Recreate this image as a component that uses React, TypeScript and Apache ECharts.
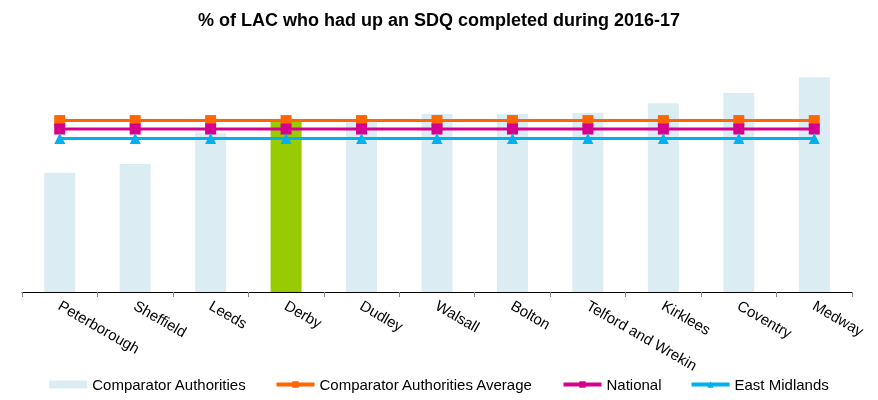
import React, { useEffect, useRef } from "react";
import * as echarts from "echarts";

const categories = [
  "Peterborough",
  "Sheffield",
  "Leeds",
  "Derby",
  "Dudley",
  "Walsall",
  "Bolton",
  "Telford and Wrekin",
  "Kirklees",
  "Coventry",
  "Medway",
];
const comparatorValues = [55, 59, 73.3, 78.8, 78.3, 82, 82, 82.5, 87, 91.7, 99];
const comparatorAverage = [79, 79, 79, 79, 79, 79, 79, 79, 79, 79, 79];
const nationalValues = [75.1, 75.1, 75.1, 75.1, 75.1, 75.1, 75.1, 75.1, 75.1, 75.1, 75.1];
const eastMidlandsValues = [70.7, 70.7, 70.7, 70.7, 70.7, 70.7, 70.7, 70.7, 70.7, 70.7, 70.7];
const highlight = "Derby";

const FONT = "Liberation Sans, Arial, sans-serif";

export default function App() {
  const ref = useRef<HTMLDivElement>(null);
  useEffect(() => {
    if (!ref.current) return;
    const chart = echarts.init(ref.current, undefined, { renderer: "svg" });
    chart.setOption({
      animation: false,
      title: {
        text: "% of LAC who had up an SDQ completed during 2016-17",
        left: "center",
        top: 6,
        textStyle: { fontFamily: FONT, fontSize: 18, fontWeight: "bold", color: "#000" },
      },
      grid: { left: 22, right: 26, top: 75, bottom: 108, containLabel: false },
      legend: {
        top: 377,
        left: "center",
        padding: 0,
        itemGap: 28,
        itemWidth: 38,
        itemHeight: 8,
        lineStyle: { width: 4 },
        textStyle: { fontFamily: FONT, fontSize: 15, color: "#000" },
        data: [
          { name: "Comparator Authorities", icon: "rect" },
          "Comparator Authorities Average",
          "National",
          "East Midlands",
        ],
      },
      xAxis: {
        type: "category",
        data: categories,
        boundaryGap: true,
        axisLine: { lineStyle: { color: "#000", width: 1 } },
        axisTick: { show: true, length: 5, lineStyle: { color: "#888" } },
        axisLabel: {
          rotate: -30,
          interval: 0,
          margin: 12,
          fontFamily: FONT,
          fontSize: 15,
          color: "#000",
        },
      },
      yAxis: {
        type: "value",
        min: 0,
        max: 100,
        show: false,
        splitLine: { show: false },
      },
      series: [
        {
          name: "Comparator Authorities",
          type: "bar",
          barWidth: 31,
          itemStyle: { color: "#DBEDF3" },
          data: comparatorValues.map((v, i) =>
            categories[i] === highlight
              ? { value: v, itemStyle: { color: "#99CC00" } }
              : v
          ),
        },
        {
          name: "Comparator Authorities Average",
          type: "line",
          data: comparatorAverage,
          symbol: "rect",
          symbolSize: 11,
          color: "#FF6600",
          lineStyle: { width: 3, color: "#FF6600" },
          itemStyle: { color: "#FF6600" },
        },
        {
          name: "National",
          type: "line",
          data: nationalValues,
          symbol: "rect",
          symbolSize: 11,
          color: "#D6008F",
          lineStyle: { width: 3, color: "#D6008F" },
          itemStyle: { color: "#D6008F" },
        },
        {
          name: "East Midlands",
          type: "line",
          data: eastMidlandsValues,
          symbol: "triangle",
          symbolSize: 11,
          color: "#00B0F0",
          lineStyle: { width: 3, color: "#00B0F0" },
          itemStyle: { color: "#00B0F0" },
        },
      ],
    });
    return () => chart.dispose();
  }, []);
  return (
    <div
      ref={ref}
      style={{ position: "fixed", left: 0, top: 0, width: 878, height: 400 }}
    />
  );
}
